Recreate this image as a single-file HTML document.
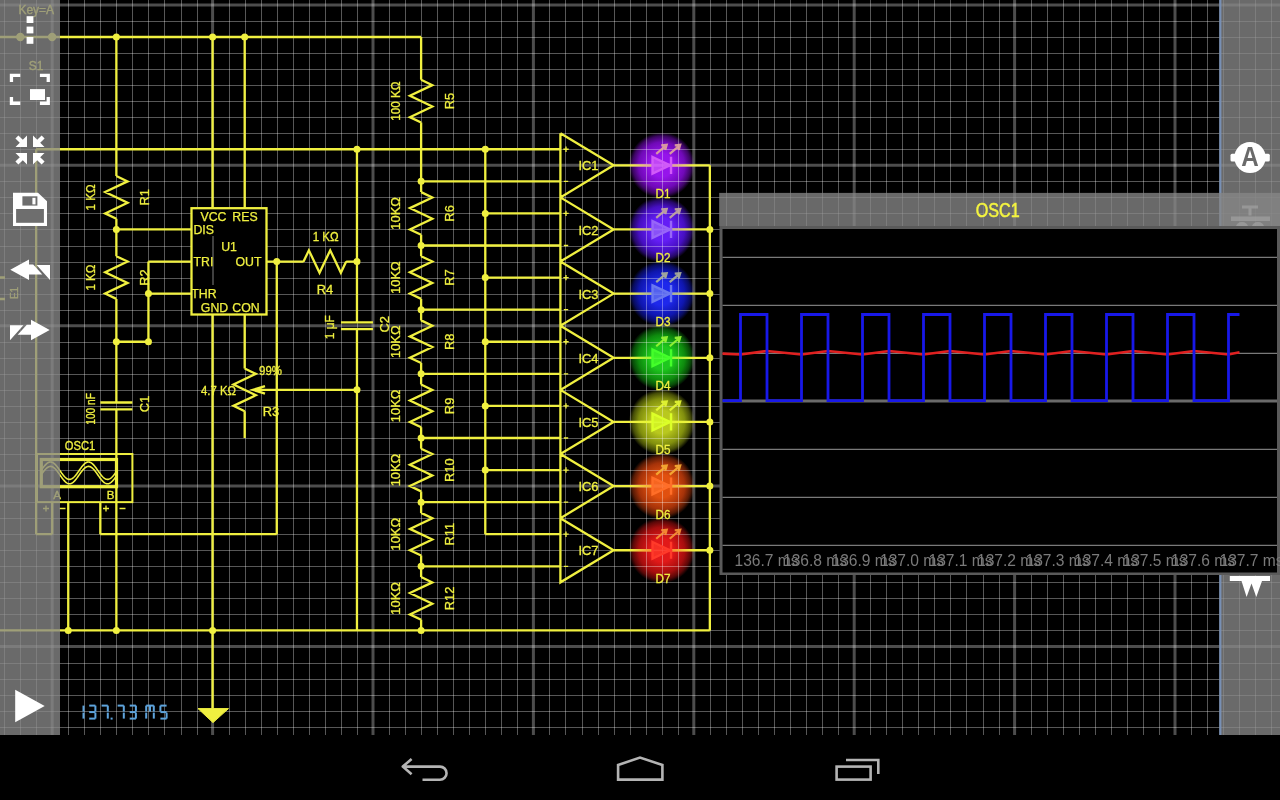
<!DOCTYPE html><html><head><meta charset="utf-8"><title>Circuit</title><style>html,body{margin:0;padding:0;background:#000;overflow:hidden;width:1280px;height:800px}svg{display:block;font-family:"Liberation Sans",sans-serif;will-change:transform}</style></head><body>
<svg width="1280" height="800" viewBox="0 0 1280 800">
<defs><radialGradient id="gl0"><stop offset="0" stop-color="#9614eb" stop-opacity="1"/><stop offset="0.35" stop-color="#9614eb" stop-opacity="1"/><stop offset="0.7" stop-color="#7a0ac8" stop-opacity="0.92"/><stop offset="0.88" stop-color="#7a0ac8" stop-opacity="0.5"/><stop offset="1" stop-color="#7a0ac8" stop-opacity="0"/></radialGradient><linearGradient id="wt0" gradientUnits="userSpaceOnUse" x1="630.72" y1="0" x2="692.72" y2="0"><stop offset="0" stop-color="#d25af8" stop-opacity="0"/><stop offset="0.3" stop-color="#d25af8" stop-opacity="0.5"/><stop offset="0.7" stop-color="#d25af8" stop-opacity="0.5"/><stop offset="1" stop-color="#d25af8" stop-opacity="0"/></linearGradient><radialGradient id="gl1"><stop offset="0" stop-color="#641ef5" stop-opacity="1"/><stop offset="0.35" stop-color="#641ef5" stop-opacity="1"/><stop offset="0.7" stop-color="#4c10d2" stop-opacity="0.92"/><stop offset="0.88" stop-color="#4c10d2" stop-opacity="0.5"/><stop offset="1" stop-color="#4c10d2" stop-opacity="0"/></radialGradient><linearGradient id="wt1" gradientUnits="userSpaceOnUse" x1="630.72" y1="0" x2="692.72" y2="0"><stop offset="0" stop-color="#9866f8" stop-opacity="0"/><stop offset="0.3" stop-color="#9866f8" stop-opacity="0.5"/><stop offset="0.7" stop-color="#9866f8" stop-opacity="0.5"/><stop offset="1" stop-color="#9866f8" stop-opacity="0"/></linearGradient><radialGradient id="gl2"><stop offset="0" stop-color="#1e28eb" stop-opacity="1"/><stop offset="0.35" stop-color="#1e28eb" stop-opacity="1"/><stop offset="0.7" stop-color="#1018be" stop-opacity="0.92"/><stop offset="0.88" stop-color="#1018be" stop-opacity="0.5"/><stop offset="1" stop-color="#1018be" stop-opacity="0"/></radialGradient><linearGradient id="wt2" gradientUnits="userSpaceOnUse" x1="630.72" y1="0" x2="692.72" y2="0"><stop offset="0" stop-color="#6a78f0" stop-opacity="0"/><stop offset="0.3" stop-color="#6a78f0" stop-opacity="0.5"/><stop offset="0.7" stop-color="#6a78f0" stop-opacity="0.5"/><stop offset="1" stop-color="#6a78f0" stop-opacity="0"/></linearGradient><radialGradient id="gl3"><stop offset="0" stop-color="#1ec81e" stop-opacity="1"/><stop offset="0.35" stop-color="#1ec81e" stop-opacity="1"/><stop offset="0.7" stop-color="#0f960f" stop-opacity="0.92"/><stop offset="0.88" stop-color="#0f960f" stop-opacity="0.5"/><stop offset="1" stop-color="#0f960f" stop-opacity="0"/></radialGradient><linearGradient id="wt3" gradientUnits="userSpaceOnUse" x1="630.72" y1="0" x2="692.72" y2="0"><stop offset="0" stop-color="#44ff2a" stop-opacity="0"/><stop offset="0.3" stop-color="#44ff2a" stop-opacity="0.5"/><stop offset="0.7" stop-color="#44ff2a" stop-opacity="0.5"/><stop offset="1" stop-color="#44ff2a" stop-opacity="0"/></linearGradient><radialGradient id="gl4"><stop offset="0" stop-color="#b9c81e" stop-opacity="1"/><stop offset="0.35" stop-color="#b9c81e" stop-opacity="1"/><stop offset="0.7" stop-color="#8c9b0f" stop-opacity="0.92"/><stop offset="0.88" stop-color="#8c9b0f" stop-opacity="0.5"/><stop offset="1" stop-color="#8c9b0f" stop-opacity="0"/></radialGradient><linearGradient id="wt4" gradientUnits="userSpaceOnUse" x1="630.72" y1="0" x2="692.72" y2="0"><stop offset="0" stop-color="#dcff28" stop-opacity="0"/><stop offset="0.3" stop-color="#dcff28" stop-opacity="0.5"/><stop offset="0.7" stop-color="#dcff28" stop-opacity="0.5"/><stop offset="1" stop-color="#dcff28" stop-opacity="0"/></linearGradient><radialGradient id="gl5"><stop offset="0" stop-color="#e1500f" stop-opacity="1"/><stop offset="0.35" stop-color="#e1500f" stop-opacity="1"/><stop offset="0.7" stop-color="#b4370a" stop-opacity="0.92"/><stop offset="0.88" stop-color="#b4370a" stop-opacity="0.5"/><stop offset="1" stop-color="#b4370a" stop-opacity="0"/></radialGradient><linearGradient id="wt5" gradientUnits="userSpaceOnUse" x1="630.72" y1="0" x2="692.72" y2="0"><stop offset="0" stop-color="#ff6e28" stop-opacity="0"/><stop offset="0.3" stop-color="#ff6e28" stop-opacity="0.5"/><stop offset="0.7" stop-color="#ff6e28" stop-opacity="0.5"/><stop offset="1" stop-color="#ff6e28" stop-opacity="0"/></linearGradient><radialGradient id="gl6"><stop offset="0" stop-color="#e11919" stop-opacity="1"/><stop offset="0.35" stop-color="#e11919" stop-opacity="1"/><stop offset="0.7" stop-color="#b40f0f" stop-opacity="0.92"/><stop offset="0.88" stop-color="#b40f0f" stop-opacity="0.5"/><stop offset="1" stop-color="#b40f0f" stop-opacity="0"/></radialGradient><linearGradient id="wt6" gradientUnits="userSpaceOnUse" x1="630.72" y1="0" x2="692.72" y2="0"><stop offset="0" stop-color="#ff3a2a" stop-opacity="0"/><stop offset="0.3" stop-color="#ff3a2a" stop-opacity="0.5"/><stop offset="0.7" stop-color="#ff3a2a" stop-opacity="0.5"/><stop offset="1" stop-color="#ff3a2a" stop-opacity="0"/></linearGradient></defs>
<rect width="1280" height="800" fill="#000"/>
<circle cx="661.72" cy="165.3" r="33" fill="url(#gl0)"/><circle cx="661.72" cy="229.46" r="33" fill="url(#gl1)"/><circle cx="661.72" cy="293.62" r="33" fill="url(#gl2)"/><circle cx="661.72" cy="357.78" r="33" fill="url(#gl3)"/><circle cx="661.72" cy="421.94" r="33" fill="url(#gl4)"/><circle cx="661.72" cy="486.1" r="33" fill="url(#gl5)"/><circle cx="661.72" cy="550.26" r="33" fill="url(#gl6)"/>
<g stroke="#ffffff" stroke-opacity="0.34" stroke-width="1"><line x1="4.5" y1="0" x2="4.5" y2="735"/><line x1="20.5" y1="0" x2="20.5" y2="735"/><line x1="36.5" y1="0" x2="36.5" y2="735"/><line x1="68.5" y1="0" x2="68.5" y2="735"/><line x1="84.5" y1="0" x2="84.5" y2="735"/><line x1="100.5" y1="0" x2="100.5" y2="735"/><line x1="116.5" y1="0" x2="116.5" y2="735"/><line x1="132.5" y1="0" x2="132.5" y2="735"/><line x1="148.5" y1="0" x2="148.5" y2="735"/><line x1="164.5" y1="0" x2="164.5" y2="735"/><line x1="181.5" y1="0" x2="181.5" y2="735"/><line x1="197.5" y1="0" x2="197.5" y2="735"/><line x1="229.5" y1="0" x2="229.5" y2="735"/><line x1="245.5" y1="0" x2="245.5" y2="735"/><line x1="261.5" y1="0" x2="261.5" y2="735"/><line x1="277.5" y1="0" x2="277.5" y2="735"/><line x1="293.5" y1="0" x2="293.5" y2="735"/><line x1="309.5" y1="0" x2="309.5" y2="735"/><line x1="325.5" y1="0" x2="325.5" y2="735"/><line x1="341.5" y1="0" x2="341.5" y2="735"/><line x1="357.5" y1="0" x2="357.5" y2="735"/><line x1="389.5" y1="0" x2="389.5" y2="735"/><line x1="405.5" y1="0" x2="405.5" y2="735"/><line x1="421.5" y1="0" x2="421.5" y2="735"/><line x1="437.5" y1="0" x2="437.5" y2="735"/><line x1="453.5" y1="0" x2="453.5" y2="735"/><line x1="469.5" y1="0" x2="469.5" y2="735"/><line x1="485.5" y1="0" x2="485.5" y2="735"/><line x1="501.5" y1="0" x2="501.5" y2="735"/><line x1="517.5" y1="0" x2="517.5" y2="735"/><line x1="549.5" y1="0" x2="549.5" y2="735"/><line x1="565.5" y1="0" x2="565.5" y2="735"/><line x1="582.5" y1="0" x2="582.5" y2="735"/><line x1="598.5" y1="0" x2="598.5" y2="735"/><line x1="614.5" y1="0" x2="614.5" y2="735"/><line x1="630.5" y1="0" x2="630.5" y2="735"/><line x1="646.5" y1="0" x2="646.5" y2="735"/><line x1="662.5" y1="0" x2="662.5" y2="735"/><line x1="678.5" y1="0" x2="678.5" y2="735"/><line x1="710.5" y1="0" x2="710.5" y2="735"/><line x1="726.5" y1="0" x2="726.5" y2="735"/><line x1="742.5" y1="0" x2="742.5" y2="735"/><line x1="758.5" y1="0" x2="758.5" y2="735"/><line x1="774.5" y1="0" x2="774.5" y2="735"/><line x1="790.5" y1="0" x2="790.5" y2="735"/><line x1="806.5" y1="0" x2="806.5" y2="735"/><line x1="822.5" y1="0" x2="822.5" y2="735"/><line x1="838.5" y1="0" x2="838.5" y2="735"/><line x1="870.5" y1="0" x2="870.5" y2="735"/><line x1="886.5" y1="0" x2="886.5" y2="735"/><line x1="902.5" y1="0" x2="902.5" y2="735"/><line x1="918.5" y1="0" x2="918.5" y2="735"/><line x1="934.5" y1="0" x2="934.5" y2="735"/><line x1="950.5" y1="0" x2="950.5" y2="735"/><line x1="966.5" y1="0" x2="966.5" y2="735"/><line x1="983.5" y1="0" x2="983.5" y2="735"/><line x1="999.5" y1="0" x2="999.5" y2="735"/><line x1="1031.5" y1="0" x2="1031.5" y2="735"/><line x1="1047.5" y1="0" x2="1047.5" y2="735"/><line x1="1063.5" y1="0" x2="1063.5" y2="735"/><line x1="1079.5" y1="0" x2="1079.5" y2="735"/><line x1="1095.5" y1="0" x2="1095.5" y2="735"/><line x1="1111.5" y1="0" x2="1111.5" y2="735"/><line x1="1127.5" y1="0" x2="1127.5" y2="735"/><line x1="1143.5" y1="0" x2="1143.5" y2="735"/><line x1="1159.5" y1="0" x2="1159.5" y2="735"/><line x1="1191.5" y1="0" x2="1191.5" y2="735"/><line x1="1207.5" y1="0" x2="1207.5" y2="735"/><line x1="1223.5" y1="0" x2="1223.5" y2="735"/><line x1="1239.5" y1="0" x2="1239.5" y2="735"/><line x1="1255.5" y1="0" x2="1255.5" y2="735"/><line x1="1271.5" y1="0" x2="1271.5" y2="735"/><line x1="0" y1="21.5" x2="1280" y2="21.5"/><line x1="0" y1="37.5" x2="1280" y2="37.5"/><line x1="0" y1="53.5" x2="1280" y2="53.5"/><line x1="0" y1="69.5" x2="1280" y2="69.5"/><line x1="0" y1="85.5" x2="1280" y2="85.5"/><line x1="0" y1="101.5" x2="1280" y2="101.5"/><line x1="0" y1="117.5" x2="1280" y2="117.5"/><line x1="0" y1="133.5" x2="1280" y2="133.5"/><line x1="0" y1="149.5" x2="1280" y2="149.5"/><line x1="0" y1="181.5" x2="1280" y2="181.5"/><line x1="0" y1="197.5" x2="1280" y2="197.5"/><line x1="0" y1="213.5" x2="1280" y2="213.5"/><line x1="0" y1="229.5" x2="1280" y2="229.5"/><line x1="0" y1="246.5" x2="1280" y2="246.5"/><line x1="0" y1="262.5" x2="1280" y2="262.5"/><line x1="0" y1="278.5" x2="1280" y2="278.5"/><line x1="0" y1="294.5" x2="1280" y2="294.5"/><line x1="0" y1="310.5" x2="1280" y2="310.5"/><line x1="0" y1="342.5" x2="1280" y2="342.5"/><line x1="0" y1="358.5" x2="1280" y2="358.5"/><line x1="0" y1="374.5" x2="1280" y2="374.5"/><line x1="0" y1="390.5" x2="1280" y2="390.5"/><line x1="0" y1="406.5" x2="1280" y2="406.5"/><line x1="0" y1="422.5" x2="1280" y2="422.5"/><line x1="0" y1="438.5" x2="1280" y2="438.5"/><line x1="0" y1="454.5" x2="1280" y2="454.5"/><line x1="0" y1="470.5" x2="1280" y2="470.5"/><line x1="0" y1="502.5" x2="1280" y2="502.5"/><line x1="0" y1="518.5" x2="1280" y2="518.5"/><line x1="0" y1="534.5" x2="1280" y2="534.5"/><line x1="0" y1="550.5" x2="1280" y2="550.5"/><line x1="0" y1="566.5" x2="1280" y2="566.5"/><line x1="0" y1="582.5" x2="1280" y2="582.5"/><line x1="0" y1="598.5" x2="1280" y2="598.5"/><line x1="0" y1="614.5" x2="1280" y2="614.5"/><line x1="0" y1="630.5" x2="1280" y2="630.5"/><line x1="0" y1="663.5" x2="1280" y2="663.5"/><line x1="0" y1="679.5" x2="1280" y2="679.5"/><line x1="0" y1="695.5" x2="1280" y2="695.5"/><line x1="0" y1="711.5" x2="1280" y2="711.5"/><line x1="0" y1="727.5" x2="1280" y2="727.5"/></g>
<g stroke="#ffffff" stroke-opacity="0.3" stroke-width="3"><line x1="52.2" y1="0" x2="52.2" y2="735"/><line x1="212.6" y1="0" x2="212.6" y2="735"/><line x1="373" y1="0" x2="373" y2="735"/><line x1="533.4" y1="0" x2="533.4" y2="735"/><line x1="693.8" y1="0" x2="693.8" y2="735"/><line x1="854.2" y1="0" x2="854.2" y2="735"/><line x1="1014.6" y1="0" x2="1014.6" y2="735"/><line x1="1175" y1="0" x2="1175" y2="735"/><line x1="0" y1="4.9" x2="1280" y2="4.9"/><line x1="0" y1="165.3" x2="1280" y2="165.3"/><line x1="0" y1="325.7" x2="1280" y2="325.7"/><line x1="0" y1="486.1" x2="1280" y2="486.1"/><line x1="0" y1="646.5" x2="1280" y2="646.5"/></g>
<path d="M0 36.98L421.12 36.98M36.16 149.26L560.4 149.26M116.36 36.98L116.36 176.05M116.36 176.05L127.56 181.38L105.16 192.05L127.56 202.71L105.16 213.38L116.36 218.71M116.36 218.71L116.36 256.25M116.36 256.25L127.56 261.58L105.16 272.25L127.56 282.91L105.16 293.58L116.36 298.91M116.36 298.91L116.36 402.5M100.36 402.5L132.36 402.5M100.36 409.3L132.36 409.3M116.36 409.3L116.36 630.46M212.6 36.98L212.6 208.2M244.68 36.98L244.68 208.2M212.6 314.5L212.6 708M244.68 314.5L244.68 368.53M244.68 368.53L255.88 373.86L233.48 384.53L255.88 395.19L233.48 405.86L244.68 411.19M244.68 411.19L244.68 437.98M116.36 229.46L191.5 229.46M148.44 261.54L191.5 261.54M148.44 261.54L148.44 341.74M148.44 293.62L191.5 293.62M116.36 341.74L148.44 341.74M266.5 261.54L303.55 261.54M303.55 261.54L308.88 250.34L319.55 272.74L330.21 250.34L340.88 272.74L346.21 261.54M346.21 261.54L356.96 261.54M276.76 261.54L276.76 534.22M100.32 534.22L276.76 534.22M100.32 502.14L100.32 534.22M356.96 149.26L356.96 322.3M340.96 322.3L372.96 322.3M340.96 329.1L372.96 329.1M356.96 329.1L356.96 630.46M253 389.86L356.96 389.86M265 386.06L253 389.86L265 393.66M68.24 502.14L68.24 630.46M0 630.46L709.84 630.46M421.12 36.98L421.12 79.81M421.12 79.81L432.32 85.14L409.92 95.81L432.32 106.47L409.92 117.14L421.12 122.47M421.12 122.47L421.12 192.09M421.12 192.09L432.32 197.42L409.92 208.09L432.32 218.75L409.92 229.42L421.12 234.75M421.12 234.75L421.12 256.25M421.12 256.25L432.32 261.58L409.92 272.25L432.32 282.91L409.92 293.58L421.12 298.91M421.12 298.91L421.12 320.41M421.12 320.41L432.32 325.74L409.92 336.41L432.32 347.07L409.92 357.74L421.12 363.07M421.12 363.07L421.12 384.57M421.12 384.57L432.32 389.9L409.92 400.57L432.32 411.23L409.92 421.9L421.12 427.23M421.12 427.23L421.12 448.73M421.12 448.73L432.32 454.06L409.92 464.73L432.32 475.39L409.92 486.06L421.12 491.39M421.12 491.39L421.12 512.89M421.12 512.89L432.32 518.22L409.92 528.89L432.32 539.55L409.92 550.22L421.12 555.55M421.12 555.55L421.12 577.05M421.12 577.05L432.32 582.38L409.92 593.05L432.32 603.71L409.92 614.38L421.12 619.71M421.12 619.71L421.12 630.46M485.28 149.26L485.28 534.22M421.12 181.34L560.4 181.34M560.4 133.22L613.6 165.3L560.4 197.38L560.4 133.22M485.28 213.42L560.4 213.42M421.12 245.5L560.4 245.5M560.4 197.38L613.6 229.46L560.4 261.54L560.4 197.38M485.28 277.58L560.4 277.58M421.12 309.66L560.4 309.66M560.4 261.54L613.6 293.62L560.4 325.7L560.4 261.54M485.28 341.74L560.4 341.74M421.12 373.82L560.4 373.82M560.4 325.7L613.6 357.78L560.4 389.86L560.4 325.7M485.28 405.9L560.4 405.9M421.12 437.98L560.4 437.98M560.4 389.86L613.6 421.94L560.4 454.02L560.4 389.86M485.28 470.06L560.4 470.06M421.12 502.14L560.4 502.14M560.4 454.02L613.6 486.1L560.4 518.18L560.4 454.02M485.28 534.22L560.4 534.22M421.12 566.3L560.4 566.3M560.4 518.18L613.6 550.26L560.4 582.34L560.4 518.18M709.84 165.3L709.84 630.46M36.16 149.26L36.16 534.22M36.16 534.22L52.2 534.22M52.2 534.22L52.2 502.14M0 277.5L5 277.5M0 299L5 299M613.6 165.3L652.52 165.3M671.02 165.3L709.84 165.3M613.6 229.46L652.52 229.46M671.02 229.46L709.84 229.46M613.6 293.62L652.52 293.62M671.02 293.62L709.84 293.62M613.6 357.78L652.52 357.78M671.02 357.78L709.84 357.78M613.6 421.94L652.52 421.94M671.02 421.94L709.84 421.94M613.6 486.1L652.52 486.1M671.02 486.1L709.84 486.1M613.6 550.26L652.52 550.26M671.02 550.26L709.84 550.26" fill="none" stroke="#f0f040" stroke-width="2.3" stroke-linejoin="miter" stroke-linecap="butt"/>
<rect x="37" y="454.02" width="95.4" height="48.12" fill="none" stroke="#f0f040" stroke-width="2"/>
<rect x="41.3" y="459.5" width="75.2" height="27.2" fill="none" stroke="#f0f040" stroke-width="3.2"/>
<path d="M42 469.27L42.49 468.57L42.99 467.89L43.48 467.23L43.97 466.59L44.47 465.98L44.96 465.4L45.45 464.86L45.95 464.35L46.44 463.89L46.93 463.47L47.43 463.1L47.92 462.78L48.41 462.51L48.91 462.3L49.4 462.14L49.89 462.04L50.39 462L50.88 462.02L51.37 462.09L51.87 462.22L52.36 462.41L52.85 462.65L53.35 462.95L53.84 463.29L54.33 463.69L54.83 464.13L55.32 464.62L55.81 465.15L56.31 465.71L56.8 466.31L57.29 466.94L57.79 467.59L58.28 468.26L58.77 468.95L59.27 469.65L59.76 470.35L60.25 471.06L60.75 471.77L61.24 472.47L61.73 473.16L62.23 473.83L62.72 474.48L63.21 475.11L63.71 475.7L64.2 476.27L64.69 476.79L65.19 477.28L65.68 477.72L66.17 478.12L66.67 478.46L67.16 478.76L67.65 479L68.15 479.18L68.64 479.31L69.13 479.38L69.63 479.4L70.12 479.35L70.61 479.25L71.11 479.09L71.6 478.88L72.09 478.61L72.59 478.29L73.08 477.92L73.57 477.5L74.07 477.04L74.56 476.53L75.05 475.98L75.55 475.4L76.04 474.79L76.53 474.15L77.03 473.49L77.52 472.81L78.01 472.11L78.51 471.41L79 470.7L79.49 469.99L79.99 469.29L80.48 468.59L80.97 467.91L81.47 467.25L81.96 466.61L82.45 466L82.95 465.42L83.44 464.87L83.93 464.36L84.43 463.9L84.92 463.48L85.41 463.11L85.91 462.79L86.4 462.52L86.89 462.31L87.39 462.15L87.88 462.05L88.37 462L88.87 462.02L89.36 462.09L89.85 462.22L90.35 462.4L90.84 462.64L91.33 462.94L91.83 463.28L92.32 463.68L92.81 464.12L93.31 464.61L93.8 465.13L94.29 465.7L94.79 466.29L95.28 466.92L95.77 467.57L96.27 468.24L96.76 468.93L97.25 469.63L97.75 470.34L98.24 471.05L98.73 471.75L99.23 472.45L99.72 473.14L100.21 473.81L100.71 474.46L101.2 475.09L101.69 475.69L102.19 476.25L102.68 476.78L103.17 477.27L103.67 477.71L104.16 478.11L104.65 478.45L105.15 478.75L105.64 478.99L106.13 479.18L106.63 479.31L107.12 479.38L107.61 479.4L108.11 479.36L108.6 479.26L109.09 479.1L109.59 478.89L110.08 478.62L110.57 478.3L111.07 477.93L111.56 477.51L112.05 477.05L112.55 476.54L113.04 476L113.53 475.42L114.03 474.81L114.52 474.17L115.01 473.51L115.51 472.83L116 472.13" fill="none" stroke="#f0f040" stroke-width="1.6"/>
<path d="M42 473.67L42.49 472.97L42.99 472.29L43.48 471.63L43.97 470.99L44.47 470.38L44.96 469.8L45.45 469.26L45.95 468.75L46.44 468.29L46.93 467.87L47.43 467.5L47.92 467.18L48.41 466.91L48.91 466.7L49.4 466.54L49.89 466.44L50.39 466.4L50.88 466.42L51.37 466.49L51.87 466.62L52.36 466.81L52.85 467.05L53.35 467.35L53.84 467.69L54.33 468.09L54.83 468.53L55.32 469.02L55.81 469.55L56.31 470.11L56.8 470.71L57.29 471.34L57.79 471.99L58.28 472.66L58.77 473.35L59.27 474.05L59.76 474.75L60.25 475.46L60.75 476.17L61.24 476.87L61.73 477.56L62.23 478.23L62.72 478.88L63.21 479.51L63.71 480.1L64.2 480.67L64.69 481.19L65.19 481.68L65.68 482.12L66.17 482.52L66.67 482.86L67.16 483.16L67.65 483.4L68.15 483.58L68.64 483.71L69.13 483.78L69.63 483.8L70.12 483.75L70.61 483.65L71.11 483.49L71.6 483.28L72.09 483.01L72.59 482.69L73.08 482.32L73.57 481.9L74.07 481.44L74.56 480.93L75.05 480.38L75.55 479.8L76.04 479.19L76.53 478.55L77.03 477.89L77.52 477.21L78.01 476.51L78.51 475.81L79 475.1L79.49 474.39L79.99 473.69L80.48 472.99L80.97 472.31L81.47 471.65L81.96 471.01L82.45 470.4L82.95 469.82L83.44 469.27L83.93 468.76L84.43 468.3L84.92 467.88L85.41 467.51L85.91 467.19L86.4 466.92L86.89 466.71L87.39 466.55L87.88 466.45L88.37 466.4L88.87 466.42L89.36 466.49L89.85 466.62L90.35 466.8L90.84 467.04L91.33 467.34L91.83 467.68L92.32 468.08L92.81 468.52L93.31 469.01L93.8 469.53L94.29 470.1L94.79 470.69L95.28 471.32L95.77 471.97L96.27 472.64L96.76 473.33L97.25 474.03L97.75 474.74L98.24 475.45L98.73 476.15L99.23 476.85L99.72 477.54L100.21 478.21L100.71 478.86L101.2 479.49L101.69 480.09L102.19 480.65L102.68 481.18L103.17 481.67L103.67 482.11L104.16 482.51L104.65 482.85L105.15 483.15L105.64 483.39L106.13 483.58L106.63 483.71L107.12 483.78L107.61 483.8L108.11 483.76L108.6 483.66L109.09 483.5L109.59 483.29L110.08 483.02L110.57 482.7L111.07 482.33L111.56 481.91L112.05 481.45L112.55 480.94L113.04 480.4L113.53 479.82L114.03 479.21L114.52 478.57L115.01 477.91L115.51 477.23L116 476.53" fill="none" stroke="#f0f040" stroke-width="1.6"/>
<path d="M198 708.6L228.5 708.6L213 722.6Z" fill="#f0f040" stroke="#f0f040" stroke-width="1"/>
<rect x="191.5" y="208.2" width="75" height="106.3" fill="#000" stroke="#f0f040" stroke-width="2.3"/>
<line x1="213" y1="236" x2="213" y2="285" stroke="#404040" stroke-width="2"/>
<path d="M563.3 149.26H568.7M566 146.56V151.96M563.8 181.34H568.2M563.3 213.42H568.7M566 210.72V216.12M563.8 245.5H568.2M563.3 277.58H568.7M566 274.88V280.28M563.8 309.66H568.2M563.3 341.74H568.7M566 339.04V344.44M563.8 373.82H568.2M563.3 405.9H568.7M566 403.2V408.6M563.8 437.98H568.2M563.3 470.06H568.7M566 467.36V472.76M563.8 502.14H568.2M563.3 534.22H568.7M566 531.52V536.92M563.8 566.3H568.2M43 508.5H49M46 505.5V511.5M59.5 508.5H65.5M103 508.5H109M106 505.5V511.5M119.5 508.5H125.5" fill="none" stroke="#f0f040" stroke-width="1.3"/>
<g fill="#f0f040"><circle cx="116.36" cy="36.98" r="3.5"/><circle cx="212.6" cy="36.98" r="3.5"/><circle cx="244.68" cy="36.98" r="3.5"/><circle cx="356.96" cy="149.26" r="3.5"/><circle cx="485.28" cy="149.26" r="3.5"/><circle cx="116.36" cy="229.46" r="3.5"/><circle cx="116.36" cy="341.74" r="3.5"/><circle cx="116.36" cy="630.46" r="3.5"/><circle cx="212.6" cy="630.46" r="3.5"/><circle cx="148.44" cy="293.62" r="3.5"/><circle cx="148.44" cy="341.74" r="3.5"/><circle cx="276.76" cy="261.54" r="3.5"/><circle cx="356.96" cy="261.54" r="3.5"/><circle cx="356.96" cy="389.86" r="3.5"/><circle cx="68.24" cy="630.46" r="3.5"/><circle cx="421.12" cy="181.34" r="3.5"/><circle cx="421.12" cy="245.5" r="3.5"/><circle cx="421.12" cy="309.66" r="3.5"/><circle cx="421.12" cy="373.82" r="3.5"/><circle cx="421.12" cy="437.98" r="3.5"/><circle cx="421.12" cy="502.14" r="3.5"/><circle cx="421.12" cy="566.3" r="3.5"/><circle cx="421.12" cy="630.46" r="3.5"/><circle cx="485.28" cy="213.42" r="3.5"/><circle cx="709.84" cy="229.46" r="3.5"/><circle cx="485.28" cy="277.58" r="3.5"/><circle cx="709.84" cy="293.62" r="3.5"/><circle cx="485.28" cy="341.74" r="3.5"/><circle cx="709.84" cy="357.78" r="3.5"/><circle cx="485.28" cy="405.9" r="3.5"/><circle cx="709.84" cy="421.94" r="3.5"/><circle cx="485.28" cy="470.06" r="3.5"/><circle cx="709.84" cy="486.1" r="3.5"/><circle cx="709.84" cy="550.26" r="3.5"/><circle cx="20.3" cy="36.98" r="4.2"/><circle cx="52.1" cy="36.98" r="4.2"/></g>
<path d="M630.72 165.3H692.72" stroke="url(#wt0)" stroke-width="2.5"/><path d="M630.72 229.46H692.72" stroke="url(#wt1)" stroke-width="2.5"/><path d="M630.72 293.62H692.72" stroke="url(#wt2)" stroke-width="2.5"/><path d="M630.72 357.78H692.72" stroke="url(#wt3)" stroke-width="2.5"/><path d="M630.72 421.94H692.72" stroke="url(#wt4)" stroke-width="2.5"/><path d="M630.72 486.1H692.72" stroke="url(#wt5)" stroke-width="2.5"/><path d="M630.72 550.26H692.72" stroke="url(#wt6)" stroke-width="2.5"/>
<path d="M652.52 157L670.02 165.3L652.52 173.6Z" fill="#d25af8" fill-opacity="0.7"/><path d="M652.52 157L670.02 165.3L652.52 173.6ZM671.02 156.7L671.02 173.9" fill="none" stroke="#d25af8" stroke-width="2.4"/><path d="M656.22 153.8L666.72 144.8M661.22 145.3L666.72 144.8L665.22 150M669.72 153.8L680.22 144.8M674.72 145.3L680.22 144.8L678.72 150" fill="none" stroke="#e1a59c" stroke-width="2.2" stroke-opacity="0.9"/><path d="M652.52 221.16L670.02 229.46L652.52 237.76Z" fill="#9866f8" fill-opacity="0.7"/><path d="M652.52 221.16L670.02 229.46L652.52 237.76ZM671.02 220.86L671.02 238.06" fill="none" stroke="#9866f8" stroke-width="2.4"/><path d="M656.22 217.96L666.72 208.96M661.22 209.46L666.72 208.96L665.22 214.16M669.72 217.96L680.22 208.96M674.72 209.46L680.22 208.96L678.72 214.16" fill="none" stroke="#c4ab9c" stroke-width="2.2" stroke-opacity="0.9"/><path d="M652.52 285.32L670.02 293.62L652.52 301.92Z" fill="#6a78f0" fill-opacity="0.7"/><path d="M652.52 285.32L670.02 293.62L652.52 301.92ZM671.02 285.02L671.02 302.22" fill="none" stroke="#6a78f0" stroke-width="2.4"/><path d="M656.22 282.12L666.72 273.12M661.22 273.62L666.72 273.12L665.22 278.32M669.72 282.12L680.22 273.12M674.72 273.62L680.22 273.12L678.72 278.32" fill="none" stroke="#adb498" stroke-width="2.2" stroke-opacity="0.9"/><path d="M652.52 349.48L670.02 357.78L652.52 366.08Z" fill="#44ff2a" fill-opacity="0.7"/><path d="M652.52 349.48L670.02 357.78L652.52 366.08ZM671.02 349.18L671.02 366.38" fill="none" stroke="#44ff2a" stroke-width="2.4"/><path d="M656.22 346.28L666.72 337.28M661.22 337.78L666.72 337.28L665.22 342.48M669.72 346.28L680.22 337.28M674.72 337.78L680.22 337.28L678.72 342.48" fill="none" stroke="#9af835" stroke-width="2.2" stroke-opacity="0.9"/><path d="M652.52 413.64L670.02 421.94L652.52 430.24Z" fill="#dcff28" fill-opacity="0.7"/><path d="M652.52 413.64L670.02 421.94L652.52 430.24ZM671.02 413.34L671.02 430.54" fill="none" stroke="#dcff28" stroke-width="2.4"/><path d="M656.22 410.44L666.72 401.44M661.22 401.94L666.72 401.44L665.22 406.64M669.72 410.44L680.22 401.44M674.72 401.94L680.22 401.44L678.72 406.64" fill="none" stroke="#e6f834" stroke-width="2.2" stroke-opacity="0.9"/><path d="M652.52 477.8L670.02 486.1L652.52 494.4Z" fill="#ff6e28" fill-opacity="0.7"/><path d="M652.52 477.8L670.02 486.1L652.52 494.4ZM671.02 477.5L671.02 494.7" fill="none" stroke="#ff6e28" stroke-width="2.4"/><path d="M656.22 474.6L666.72 465.6M661.22 466.1L666.72 465.6L665.22 470.8M669.72 474.6L680.22 465.6M674.72 466.1L680.22 465.6L678.72 470.8" fill="none" stroke="#f8af34" stroke-width="2.2" stroke-opacity="0.9"/><path d="M652.52 541.96L670.02 550.26L652.52 558.56Z" fill="#ff3a2a" fill-opacity="0.7"/><path d="M652.52 541.96L670.02 550.26L652.52 558.56ZM671.02 541.66L671.02 558.86" fill="none" stroke="#ff3a2a" stroke-width="2.4"/><path d="M656.22 538.76L666.72 529.76M661.22 530.26L666.72 529.76L665.22 534.96M669.72 538.76L680.22 529.76M674.72 530.26L680.22 529.76L678.72 534.96" fill="none" stroke="#f89535" stroke-width="2.2" stroke-opacity="0.9"/>
<g stroke="#f0f040" stroke-width="0.3"><text x="0" y="0" transform="translate(90.86 197.38) rotate(-90)" font-size="12.9" text-anchor="middle" dominant-baseline="central" fill="#f0f040" textLength="26" lengthAdjust="spacingAndGlyphs">1 K&#937;</text><text x="0" y="0" transform="translate(144.36 197.38) rotate(-90)" font-size="12.9" text-anchor="middle" dominant-baseline="central" fill="#f0f040">R1</text><text x="0" y="0" transform="translate(90.86 277.58) rotate(-90)" font-size="12.9" text-anchor="middle" dominant-baseline="central" fill="#f0f040" textLength="26" lengthAdjust="spacingAndGlyphs">1 K&#937;</text><text x="0" y="0" transform="translate(144.36 277.58) rotate(-90)" font-size="12.9" text-anchor="middle" dominant-baseline="central" fill="#f0f040">R2</text><text x="0" y="0" transform="translate(90.86 408.9) rotate(-90)" font-size="12.9" text-anchor="middle" dominant-baseline="central" fill="#f0f040" textLength="31.5" lengthAdjust="spacingAndGlyphs">100 nF</text><text x="0" y="0" transform="translate(144.36 403.9) rotate(-90)" font-size="12.9" text-anchor="middle" dominant-baseline="central" fill="#f0f040">C1</text><text x="325.68" y="236.04" font-size="12.9" text-anchor="middle" dominant-baseline="central" fill="#f0f040" textLength="26" lengthAdjust="spacingAndGlyphs">1 K&#937;</text><text x="324.88" y="289.04" font-size="12.9" text-anchor="middle" dominant-baseline="central" fill="#f0f040">R4</text><text x="0" y="0" transform="translate(329.96 327.2) rotate(-90)" font-size="12.9" text-anchor="middle" dominant-baseline="central" fill="#f0f040" textLength="24" lengthAdjust="spacingAndGlyphs">1 &#956;F</text><text x="0" y="0" transform="translate(384.96 324.2) rotate(-90)" font-size="12.9" text-anchor="middle" dominant-baseline="central" fill="#f0f040">C2</text><text x="270.5" y="370.36" font-size="12.9" text-anchor="middle" dominant-baseline="central" fill="#f0f040" textLength="23" lengthAdjust="spacingAndGlyphs">99%</text><text x="218.5" y="390.86" font-size="12.9" text-anchor="middle" dominant-baseline="central" fill="#f0f040" textLength="35" lengthAdjust="spacingAndGlyphs">4.7 K&#937;</text><text x="271" y="411.36" font-size="12.9" text-anchor="middle" dominant-baseline="central" fill="#f0f040">R3</text><text x="0" y="0" transform="translate(395.12 101.14) rotate(-90)" font-size="12.9" text-anchor="middle" dominant-baseline="central" fill="#f0f040" textLength="39.4" lengthAdjust="spacingAndGlyphs">100 K&#937;</text><text x="0" y="0" transform="translate(449.12 101.14) rotate(-90)" font-size="12.9" text-anchor="middle" dominant-baseline="central" fill="#f0f040">R5</text><text x="0" y="0" transform="translate(395.12 213.42) rotate(-90)" font-size="12.9" text-anchor="middle" dominant-baseline="central" fill="#f0f040">10K&#937;</text><text x="0" y="0" transform="translate(449.12 213.42) rotate(-90)" font-size="12.9" text-anchor="middle" dominant-baseline="central" fill="#f0f040">R6</text><text x="0" y="0" transform="translate(395.12 277.58) rotate(-90)" font-size="12.9" text-anchor="middle" dominant-baseline="central" fill="#f0f040">10K&#937;</text><text x="0" y="0" transform="translate(449.12 277.58) rotate(-90)" font-size="12.9" text-anchor="middle" dominant-baseline="central" fill="#f0f040">R7</text><text x="0" y="0" transform="translate(395.12 341.74) rotate(-90)" font-size="12.9" text-anchor="middle" dominant-baseline="central" fill="#f0f040">10K&#937;</text><text x="0" y="0" transform="translate(449.12 341.74) rotate(-90)" font-size="12.9" text-anchor="middle" dominant-baseline="central" fill="#f0f040">R8</text><text x="0" y="0" transform="translate(395.12 405.9) rotate(-90)" font-size="12.9" text-anchor="middle" dominant-baseline="central" fill="#f0f040">10K&#937;</text><text x="0" y="0" transform="translate(449.12 405.9) rotate(-90)" font-size="12.9" text-anchor="middle" dominant-baseline="central" fill="#f0f040">R9</text><text x="0" y="0" transform="translate(395.12 470.06) rotate(-90)" font-size="12.9" text-anchor="middle" dominant-baseline="central" fill="#f0f040">10K&#937;</text><text x="0" y="0" transform="translate(449.12 470.06) rotate(-90)" font-size="12.9" text-anchor="middle" dominant-baseline="central" fill="#f0f040">R10</text><text x="0" y="0" transform="translate(395.12 534.22) rotate(-90)" font-size="12.9" text-anchor="middle" dominant-baseline="central" fill="#f0f040">10K&#937;</text><text x="0" y="0" transform="translate(449.12 534.22) rotate(-90)" font-size="12.9" text-anchor="middle" dominant-baseline="central" fill="#f0f040">R11</text><text x="0" y="0" transform="translate(395.12 598.38) rotate(-90)" font-size="12.9" text-anchor="middle" dominant-baseline="central" fill="#f0f040">10K&#937;</text><text x="0" y="0" transform="translate(449.12 598.38) rotate(-90)" font-size="12.9" text-anchor="middle" dominant-baseline="central" fill="#f0f040">R12</text><text x="588.5" y="165.9" font-size="12.9" text-anchor="middle" dominant-baseline="central" fill="#f0f040">IC1</text><text x="588.5" y="230.06" font-size="12.9" text-anchor="middle" dominant-baseline="central" fill="#f0f040">IC2</text><text x="588.5" y="294.22" font-size="12.9" text-anchor="middle" dominant-baseline="central" fill="#f0f040">IC3</text><text x="588.5" y="358.38" font-size="12.9" text-anchor="middle" dominant-baseline="central" fill="#f0f040">IC4</text><text x="588.5" y="422.54" font-size="12.9" text-anchor="middle" dominant-baseline="central" fill="#f0f040">IC5</text><text x="588.5" y="486.7" font-size="12.9" text-anchor="middle" dominant-baseline="central" fill="#f0f040">IC6</text><text x="588.5" y="550.86" font-size="12.9" text-anchor="middle" dominant-baseline="central" fill="#f0f040">IC7</text><text x="80" y="445.6" font-size="12.9" text-anchor="middle" dominant-baseline="central" fill="#f0f040" textLength="30.5" lengthAdjust="spacingAndGlyphs">OSC1</text><text x="57" y="495.3" font-size="11.5" text-anchor="middle" dominant-baseline="central" fill="#f0f040">A</text><text x="110.6" y="495.3" font-size="11.5" text-anchor="middle" dominant-baseline="central" fill="#f0f040">B</text><text x="36" y="65.5" font-size="12" text-anchor="middle" dominant-baseline="central" fill="#f0f040">S1</text><text x="36.3" y="9.8" font-size="12" text-anchor="middle" dominant-baseline="central" fill="#f0f040">Key=A</text><text x="0" y="0" transform="translate(14 293) rotate(-90)" font-size="10" text-anchor="middle" dominant-baseline="central" fill="#f0f040">E1</text><text x="663" y="193.3" font-size="12.9" text-anchor="middle" dominant-baseline="central" fill="#f0f040" textLength="15" lengthAdjust="spacingAndGlyphs">D1</text><text x="663" y="257.46" font-size="12.9" text-anchor="middle" dominant-baseline="central" fill="#f0f040" textLength="15" lengthAdjust="spacingAndGlyphs">D2</text><text x="663" y="321.62" font-size="12.9" text-anchor="middle" dominant-baseline="central" fill="#f0f040" textLength="15" lengthAdjust="spacingAndGlyphs">D3</text><text x="663" y="385.78" font-size="12.9" text-anchor="middle" dominant-baseline="central" fill="#f0f040" textLength="15" lengthAdjust="spacingAndGlyphs">D4</text><text x="663" y="449.94" font-size="12.9" text-anchor="middle" dominant-baseline="central" fill="#f0f040" textLength="15" lengthAdjust="spacingAndGlyphs">D5</text><text x="663" y="514.1" font-size="12.9" text-anchor="middle" dominant-baseline="central" fill="#f0f040" textLength="15" lengthAdjust="spacingAndGlyphs">D6</text><text x="663" y="578.26" font-size="12.9" text-anchor="middle" dominant-baseline="central" fill="#f0f040" textLength="15" lengthAdjust="spacingAndGlyphs">D7</text></g>
<text x="213.5" y="216.5" font-size="12.3" text-anchor="middle" dominant-baseline="central" fill="#f0f040" stroke="#f0f040" stroke-width="0.25">VCC</text>
<text x="245" y="216.5" font-size="12.3" text-anchor="middle" dominant-baseline="central" fill="#f0f040" stroke="#f0f040" stroke-width="0.25">RES</text>
<text x="203.7" y="230.3" font-size="12.3" text-anchor="middle" dominant-baseline="central" fill="#f0f040" stroke="#f0f040" stroke-width="0.25">DIS</text>
<text x="229" y="246.7" font-size="12.3" text-anchor="middle" dominant-baseline="central" fill="#f0f040" stroke="#f0f040" stroke-width="0.25">U1</text>
<text x="203.5" y="262.3" font-size="12.3" text-anchor="middle" dominant-baseline="central" fill="#f0f040" stroke="#f0f040" stroke-width="0.25">TRI</text>
<text x="248.5" y="262.3" font-size="12.3" text-anchor="middle" dominant-baseline="central" fill="#f0f040" stroke="#f0f040" stroke-width="0.25">OUT</text>
<text x="204" y="294.3" font-size="12.3" text-anchor="middle" dominant-baseline="central" fill="#f0f040" stroke="#f0f040" stroke-width="0.25">THR</text>
<text x="214.5" y="308.3" font-size="12.3" text-anchor="middle" dominant-baseline="central" fill="#f0f040" stroke="#f0f040" stroke-width="0.25">GND</text>
<text x="246" y="308.3" font-size="12.3" text-anchor="middle" dominant-baseline="central" fill="#f0f040" stroke="#f0f040" stroke-width="0.25">CON</text>
<rect x="0" y="0" width="60" height="735" fill="#888888" fill-opacity="0.78"/><rect x="26.6" y="16.2" width="6.8" height="6.8" fill="#ffffff"/><rect x="26.6" y="26.6" width="6.8" height="6.8" fill="#ffffff"/><rect x="26.6" y="37" width="6.8" height="6.8" fill="#ffffff"/><path d="M9.8 73.8H20.3V77.1H13.1V82H9.8ZM49.9 73.8H39.9V77.1H46.6V82H49.9ZM9.8 104.9H20.3V101.6H13.1V97H9.8ZM49.9 104.9H39.9V101.6H46.6V97H49.9Z" fill="#ffffff"/><rect x="30" y="89.1" width="15" height="10.9" fill="#ffffff"/><path d="M27 147L15.5 147L19.8 142.8L15.4 138.4L18.4 135.4L22.8 139.8L27 135.5ZM33 147L44.5 147L40.2 142.8L44.6 138.4L41.6 135.4L37.2 139.8L33 135.5ZM27 153L15.5 153L19.8 157.2L15.4 161.6L18.4 164.6L22.8 160.2L27 164.5ZM33 153L44.5 153L40.2 157.2L44.6 161.6L41.6 164.6L37.2 160.2L33 164.5Z" fill="#ffffff"/><path d="M13 192.8H38L47 201.3V226H13Z" fill="#ffffff"/><rect x="22.4" y="196.3" width="15" height="9.3" fill="#6e6e6e"/><rect x="32.4" y="197.8" width="3.1" height="6.6" fill="#ffffff"/><rect x="16.1" y="209" width="27.8" height="13.8" fill="#6e6e6e"/><path d="M10.3 269.8L29 259.5V264.5H33.2L42.3 274.5H29V280Z M36.6 265H50V280Z" fill="#ffffff"/><path d="M10.3 269.8L29 259.5V264.5H33.2L42.3 274.5H29V280Z M36.6 265H50V280Z" fill="#ffffff" transform="translate(60 60.3) scale(-1 1)"/><path d="M15.2 689.8L44.7 706L15.2 722.3Z" fill="#ffffff"/><rect x="1219.5" y="0" width="60.5" height="735" fill="#888888" fill-opacity="0.78"/><line x1="1220.3" y1="0" x2="1220.3" y2="735" stroke="#7890b4" stroke-width="2.2"/><circle cx="1250" cy="157.5" r="15.6" fill="#fff"/><rect x="1230.5" y="153.8" width="39.3" height="7.6" rx="1.5" fill="#fff"/><text x="1250" y="166.3" font-size="28" font-weight="bold" text-anchor="middle" fill="#6a6a6a" textLength="17.5" lengthAdjust="spacingAndGlyphs">A</text><path d="M1229.8 576H1270V581H1262L1256.3 597L1251.5 583.5L1246.6 597L1241.5 581H1229.8Z" fill="#fff"/><path d="M1242 205.5H1258V208.5H1251.5V215.5H1248.5V208.5H1242Z M1231 216.5H1270V221H1231Z M1236 227A6 5 0 0 1 1248 227Z M1252 227A6 5 0 0 1 1264 227Z" fill="#fff" fill-opacity="0.7"/>
<rect x="719.2" y="192.9" width="561" height="33.2" fill="#878787" fill-opacity="0.78"/><text x="997.7" y="217.2" font-size="20.5" text-anchor="middle" fill="#f4f440" stroke="#f4f440" stroke-width="0.5" textLength="44" lengthAdjust="spacingAndGlyphs">OSC1</text><rect x="719.5" y="226" width="560.5" height="349" fill="#5a5a5a"/><rect x="722.5" y="229" width="554.5" height="343.5" fill="#000"/><g stroke="#7a7a7a" stroke-width="1.2"><line x1="722.5" y1="257.3" x2="1277" y2="257.3"/><line x1="722.5" y1="305.4" x2="1277" y2="305.4"/><line x1="722.5" y1="353.4" x2="1277" y2="353.4"/><line x1="722.5" y1="449.3" x2="1277" y2="449.3"/><line x1="722.5" y1="497.3" x2="1277" y2="497.3"/><line x1="722.5" y1="545.4" x2="1277" y2="545.4"/></g><line x1="722.5" y1="401" x2="1277" y2="401" stroke="#6a6a6a" stroke-width="3"/><path d="M722.5 353.6L740.5 354.5L767 351L801.5 354.5L828 351L862.5 354.5L889 351L923.5 354.5L950 351L984.5 354.5L1011 351L1045.5 354.5L1072 351L1106.5 354.5L1133 351L1167.5 354.5L1194 351L1228.5 354.5L1239.5 352.2" fill="none" stroke="#e02020" stroke-width="2.6"/><path d="M722.5 400.6L740.5 400.6L740.5 314.5L767 314.5L767 400.6L801.5 400.6L801.5 314.5L828 314.5L828 400.6L862.5 400.6L862.5 314.5L889 314.5L889 400.6L923.5 400.6L923.5 314.5L950 314.5L950 400.6L984.5 400.6L984.5 314.5L1011 314.5L1011 400.6L1045.5 400.6L1045.5 314.5L1072 314.5L1072 400.6L1106.5 400.6L1106.5 314.5L1133 314.5L1133 400.6L1167.5 400.6L1167.5 314.5L1194 314.5L1194 400.6L1228.5 400.6L1228.5 314.5L1239.5 314.5" fill="none" stroke="#1818e8" stroke-width="2.8"/><text x="734.5" y="565.6" font-size="15.6" fill="#7a7a7a">136.7 ms</text><text x="783" y="565.6" font-size="15.6" fill="#7a7a7a">136.8 ms</text><text x="831.5" y="565.6" font-size="15.6" fill="#7a7a7a">136.9 ms</text><text x="880" y="565.6" font-size="15.6" fill="#7a7a7a">137.0 ms</text><text x="928.5" y="565.6" font-size="15.6" fill="#7a7a7a">137.1 ms</text><text x="977" y="565.6" font-size="15.6" fill="#7a7a7a">137.2 ms</text><text x="1025.5" y="565.6" font-size="15.6" fill="#7a7a7a">137.3 ms</text><text x="1074" y="565.6" font-size="15.6" fill="#7a7a7a">137.4 ms</text><text x="1122.5" y="565.6" font-size="15.6" fill="#7a7a7a">137.5 ms</text><text x="1171" y="565.6" font-size="15.6" fill="#7a7a7a">137.6 ms</text><text x="1219.5" y="565.6" font-size="15.6" fill="#7a7a7a">137.7 ms</text>
<rect x="0" y="735" width="1280" height="65" fill="#000"/><path d="M411.6 759L402.8 766.6L411.6 774.2M402.8 766.6H440A6.5 6.5 0 0 1 440 779.7H422.5" fill="none" stroke="#b4b4b4" stroke-width="2.6" stroke-linejoin="round"/><path d="M618.1 765L640 757.5L662.4 765V779.6H618.1Z" fill="none" stroke="#b4b4b4" stroke-width="2.6"/><rect x="836.6" y="766.6" width="34" height="13" fill="none" stroke="#b4b4b4" stroke-width="2.6"/><path d="M846 760H878.3V774" fill="none" stroke="#b4b4b4" stroke-width="2.6"/><g fill="#5ea4dc"><rect x="82.5" y="705.6" width="2" height="6"/><rect x="82.5" y="712.6" width="2" height="6"/><rect x="89.2" y="704.6" width="6.2" height="2"/><rect x="94.4" y="705.6" width="2" height="6"/><rect x="94.4" y="712.6" width="2" height="6"/><rect x="89.2" y="717.6" width="6.2" height="2"/><rect x="89.2" y="711.1" width="6.2" height="2"/><rect x="101.6" y="704.6" width="6.2" height="2"/><rect x="106.8" y="705.6" width="2" height="6"/><rect x="106.8" y="712.6" width="2" height="6"/><rect x="110.6" y="717.6" width="2" height="2"/><rect x="117.6" y="704.6" width="6.2" height="2"/><rect x="122.8" y="705.6" width="2" height="6"/><rect x="122.8" y="712.6" width="2" height="6"/><rect x="129.7" y="704.6" width="6.2" height="2"/><rect x="134.9" y="705.6" width="2" height="6"/><rect x="134.9" y="712.6" width="2" height="6"/><rect x="129.7" y="717.6" width="6.2" height="2"/><rect x="129.7" y="711.1" width="6.2" height="2"/><rect x="146.2" y="704.6" width="7.6" height="2"/><rect x="152.8" y="705.6" width="2" height="6"/><rect x="152.8" y="712.6" width="2" height="6"/><rect x="145.2" y="712.6" width="2" height="6"/><rect x="145.2" y="705.6" width="2" height="6"/><rect x="149" y="705.6" width="2" height="6"/><rect x="160.4" y="704.6" width="6.2" height="2"/><rect x="159.4" y="705.6" width="2" height="6"/><rect x="160.4" y="711.1" width="6.2" height="2"/><rect x="165.6" y="712.6" width="2" height="6"/><rect x="160.4" y="717.6" width="6.2" height="2"/></g>
</svg></body></html>
